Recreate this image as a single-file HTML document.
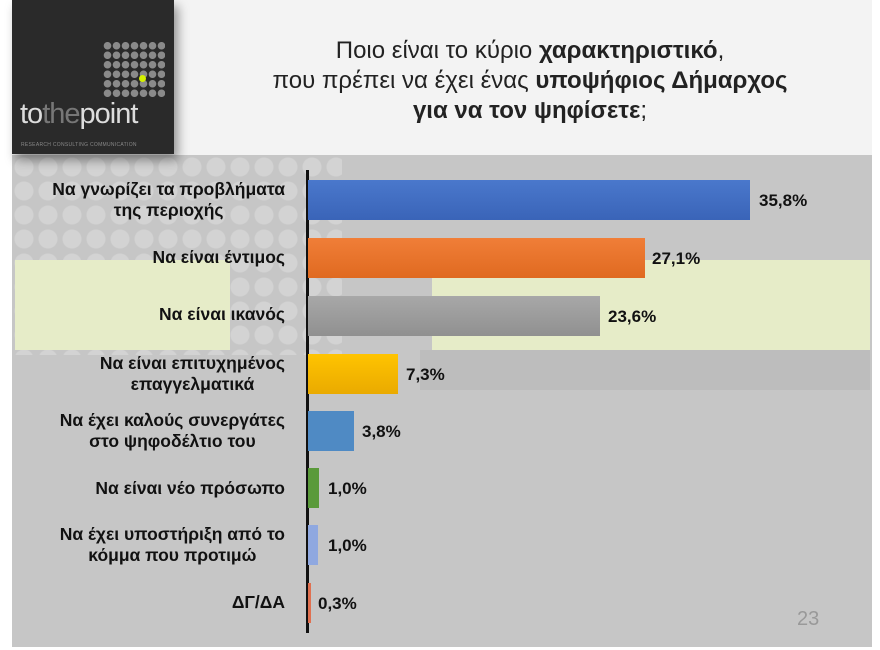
<!DOCTYPE html>
<html><head><meta charset="utf-8"><style>
body{margin:0;width:880px;height:650px;background:#fff;position:relative;overflow:hidden;font-family:"Liberation Sans","DejaVu Sans",sans-serif}
.a{position:absolute}
.lbl{position:absolute;right:595px;text-align:center;font-weight:bold;font-size:17.5px;color:#111;line-height:21px;white-space:nowrap}
.val{position:absolute;font-weight:bold;font-size:17px;color:#111}
.bar{position:absolute;left:308px;height:40px}
</style></head><body>
<div class="a" style="left:12px;top:0;width:860px;height:155px;background:#f3f3f3"></div>
<div class="a" style="left:12px;top:155px;width:860px;height:492px;background:#c6c6c6"></div>
<div class="a" style="left:12px;top:155px;width:330px;height:200px;background:radial-gradient(circle,#d8d8d8 9px,transparent 10px) 0 0/24px 24px;opacity:.7"></div>
<div class="a" style="left:15px;top:260px;width:215px;height:90px;background:#e6ecc8"></div>
<div class="a" style="left:432px;top:260px;width:438px;height:90px;background:#e6ecc8"></div>
<div class="a" style="left:420px;top:350px;width:450px;height:40px;background:#bdbdbd"></div>
<div class="a" style="left:12px;top:0;width:162px;height:154px;background:#2a2a2a;box-shadow:4px 6px 10px rgba(0,0,0,.4)"></div>
<div class="a" style="left:103px;top:41px;width:62px;height:58px;background:radial-gradient(circle,#8a8a8a 3.5px,transparent 4px) 0 0/9px 9.5px"></div>
<div class="a" style="left:139px;top:75px;width:7px;height:7px;border-radius:50%;background:#d4f000"></div>
<div class="a" style="left:20px;top:98px;color:#ddd;font-size:29px;letter-spacing:-1px">to<span style="color:#777">the</span>point</div>
<div class="a" style="left:21px;top:142px;color:#888;font-size:5px;letter-spacing:.3px">RESEARCH CONSULTING COMMUNICATION</div>
<div class="a" style="left:180px;top:36px;width:700px;text-align:center;font-size:24px;line-height:30px;color:#222">Ποιο είναι το κύριο <b>χαρακτηριστικό</b>,<br>που πρέπει να έχει ένας <b>υποψήφιος Δήμαρχος</b><br><b>για να τον ψηφίσετε</b>;</div>
<div class="a" style="left:306px;top:170px;width:3px;height:463px;background:#111"></div>
<div class="bar" style="top:180px;width:442px;background:linear-gradient(#4a78cc,#3a64b8)"></div>
<div class="bar" style="top:238px;width:337px;background:linear-gradient(#f07e38,#e06a20)"></div>
<div class="bar" style="top:296px;width:292px;background:linear-gradient(#a8a8a8,#909090)"></div>
<div class="bar" style="top:354px;width:90px;background:linear-gradient(#ffc400,#eaaa00)"></div>
<div class="bar" style="top:411px;width:46px;background:#4f8ac4"></div>
<div class="bar" style="top:468px;width:11px;background:#5a9a3a"></div>
<div class="bar" style="top:525px;width:10px;background:#8fa8e0"></div>
<div class="bar" style="top:583px;width:3px;background:#e07050"></div>
<div class="val" style="left:759px;top:191px">35,8%</div>
<div class="val" style="left:652px;top:249px">27,1%</div>
<div class="val" style="left:608px;top:307px">23,6%</div>
<div class="val" style="left:406px;top:365px">7,3%</div>
<div class="val" style="left:362px;top:422px">3,8%</div>
<div class="val" style="left:328px;top:479px">1,0%</div>
<div class="val" style="left:328px;top:536px">1,0%</div>
<div class="val" style="left:318px;top:594px">0,3%</div>
<div class="lbl" style="top:179px">Να γνωρίζει τα προβλήματα<br>της περιοχής</div>
<div class="lbl" style="top:247px">Να είναι έντιμος</div>
<div class="lbl" style="top:304px">Να είναι ικανός</div>
<div class="lbl" style="top:353px">Να είναι επιτυχημένος<br>επαγγελματικά</div>
<div class="lbl" style="top:410px">Να έχει καλούς συνεργάτες<br>στο ψηφοδέλτιο του</div>
<div class="lbl" style="top:478px">Να είναι νέο πρόσωπο</div>
<div class="lbl" style="top:524px">Να έχει υποστήριξη από το<br>κόμμα που προτιμώ</div>
<div class="lbl" style="top:592px">ΔΓ/ΔΑ</div>
<div class="a" style="left:797px;top:608px;font-size:20px;color:#999">23</div>
</body></html>
